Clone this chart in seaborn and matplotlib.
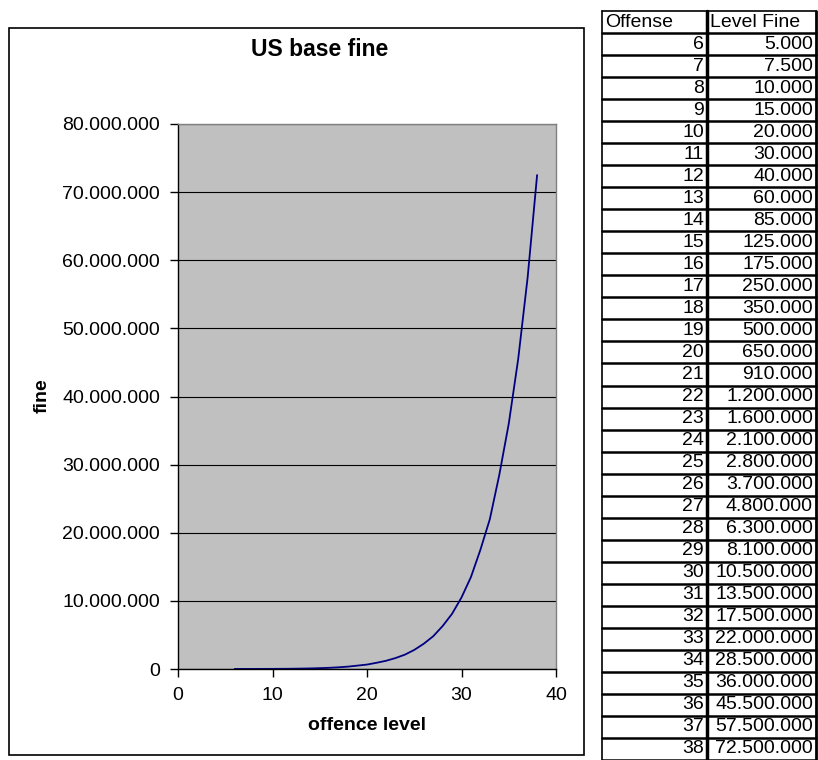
import matplotlib
matplotlib.use("Agg")
import matplotlib.pyplot as plt
import seaborn as sns
import pandas as pd
from matplotlib.patches import Rectangle
from matplotlib.lines import Line2D

levels = [6, 7, 8, 9, 10, 11, 12, 13, 14, 15, 16, 17, 18, 19, 20, 21, 22,
          23, 24, 25, 26, 27, 28, 29, 30, 31, 32, 33, 34, 35, 36, 37, 38]
fines = [5000, 7500, 10000, 15000, 20000, 30000, 40000, 60000, 85000,
         125000, 175000, 250000, 350000, 500000, 650000, 910000, 1200000,
         1600000, 2100000, 2800000, 3700000, 4800000, 6300000, 8100000,
         10500000, 13500000, 17500000, 22000000, 28500000, 36000000,
         45500000, 57500000, 72500000]
table_headers = ["Offense", "Level Fine"]
yticks = [0, 10000000, 20000000, 30000000, 40000000, 50000000, 60000000,
          70000000, 80000000]
xticks = [0, 10, 20, 30, 40]

def fmt(v):
    return f"{v:,}".replace(",", ".")

df = pd.DataFrame({"level": levels, "fine": fines})

sns.set_style("white", {"text.color": "black", "axes.labelcolor": "black",
                        "xtick.color": "black", "ytick.color": "black"})
plt.rcParams["font.family"] = ["Liberation Sans", "DejaVu Sans"]

W, H = 818, 760
fig = plt.figure(figsize=(W / 100, H / 100), dpi=100)

def fx(px):
    return px / W

def fy(py):
    return 1 - py / H

# chart frame
fig.patches.append(Rectangle((fx(9), fy(755)), fx(584) - fx(9), fy(28) - fy(755),
                             transform=fig.transFigure, fill=False,
                             edgecolor="black", linewidth=1.2))

ax = fig.add_axes([fx(178), fy(669), fx(556) - fx(178), fy(124) - fy(669)])
ax.set_facecolor("#C0C0C0")
sns.lineplot(data=df, x="level", y="fine", ax=ax, color="#000080", linewidth=1.3)
ax.set_xlim(0, 40)
ax.set_ylim(0, 80000000)
ax.set_xticks(xticks)
ax.set_yticks(yticks)
ax.set_yticklabels([fmt(v) for v in yticks], fontsize=14)
ax.set_xticklabels([str(v) for v in xticks], fontsize=14)
ax.yaxis.grid(True, color="black", linewidth=0.8)
ax.set_axisbelow(True)
for s in ["left", "bottom"]:
    ax.spines[s].set_color("black")
    ax.spines[s].set_linewidth(1.0)
for s in ["top", "right"]:
    ax.spines[s].set_color("#808080")
    ax.spines[s].set_linewidth(1.0)
ax.tick_params(axis="both", direction="out", length=6, width=1, colors="black",
               left=True, bottom=True, pad=7)
ax.set_xlabel("offence level", fontsize=14, fontweight="bold", color="black")
ax.set_ylabel("fine", fontsize=14, fontweight="bold", color="black")
ax.xaxis.set_label_coords(0.5, (669 - 725) / (669 - 124))
ax.yaxis.set_label_coords((42 - 178) / (556 - 178), (669 - 396) / (669 - 124))
ax.xaxis.label.set_va("center")
ax.yaxis.label.set_va("center")
fig.text(fx(320), fy(50), "US base fine", ha="center", va="center",
         fontsize=16.5, fontweight="bold", color="black")

# table
x0, x1, x2 = 602, 707, 816
top = 11
rh = (760 - 11) / 34.0
nrows = len(levels) + 1
bottom = top + rh * nrows
lines = []
for i in range(nrows + 1):
    y = top + rh * i
    lw = 1.2 if i == 0 else 1.8
    lines.append(Line2D([fx(x0), fx(x2)], [fy(y), fy(y)], transform=fig.transFigure,
                        color="black", linewidth=lw))
for x, lw in [(x0, 1.2), (x1, 2.5), (x2, 2.0)]:
    lines.append(Line2D([fx(x), fx(x)], [fy(top), fy(bottom)], transform=fig.transFigure,
                        color="black", linewidth=lw))
fig.lines.extend(lines)

fs = 14
ty = top + rh / 2
fig.text(fx(x0 + 3), fy(ty), table_headers[0], ha="left", va="center", fontsize=fs,
         color="black")
fig.text(fx(x1 + 3), fy(ty), table_headers[1], ha="left", va="center", fontsize=fs,
         color="black")
for i, (lv, fv) in enumerate(zip(levels, fines)):
    yc = top + rh * (i + 1.5)
    fig.text(fx(x1 - 3), fy(yc), str(lv), ha="right", va="center", fontsize=fs,
             color="black")
    fig.text(fx(x2 - 3), fy(yc), fmt(fv), ha="right", va="center", fontsize=fs,
             color="black")

fig.savefig("out.png", dpi=100, facecolor="white")
